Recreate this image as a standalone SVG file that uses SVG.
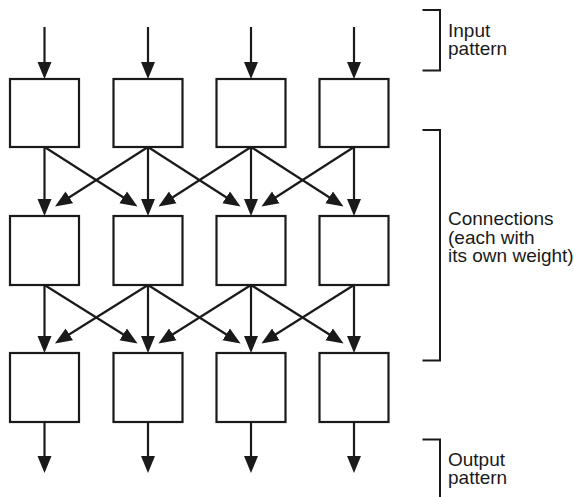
<svg xmlns="http://www.w3.org/2000/svg" width="574" height="497" viewBox="0 0 574 497">
<style>
.box{fill:#fff;stroke:#1a1a1a;stroke-width:2.2}
.ln{stroke:#1a1a1a;stroke-width:2.2;fill:none;marker-end:url(#ah)}
.br{stroke:#1a1a1a;stroke-width:2;fill:none}
.lbl{font-family:"Liberation Sans",Arial,Helvetica,sans-serif;font-size:19px;fill:#1a1a1a}
</style>
<defs>
<marker id="ah" markerUnits="userSpaceOnUse" markerWidth="18" markerHeight="16" viewBox="0 -8 18 16" refX="5" refY="0" orient="auto">
<path d="M0,-7 L17,0 L0,7 Z" fill="#1a1a1a"/>
</marker>
</defs>
<rect width="574" height="497" fill="#fff"/>
<g id="connectors">
<line class="ln" x1="44.5" y1="27" x2="44.5" y2="67"/>
<line class="ln" x1="148" y1="27" x2="148" y2="67"/>
<line class="ln" x1="251" y1="27" x2="251" y2="67"/>
<line class="ln" x1="354" y1="27" x2="354" y2="67"/>
<line class="ln" x1="44.5" y1="147" x2="44.5" y2="204"/>
<line class="ln" x1="148" y1="147" x2="148" y2="204"/>
<line class="ln" x1="251" y1="147" x2="251" y2="204"/>
<line class="ln" x1="354" y1="147" x2="354" y2="204"/>
<line class="ln" x1="44.5" y1="147" x2="127.4" y2="200"/>
<line class="ln" x1="148" y1="147" x2="230.4" y2="200"/>
<line class="ln" x1="251" y1="147" x2="333.4" y2="200"/>
<line class="ln" x1="148" y1="147" x2="65.1" y2="200"/>
<line class="ln" x1="251" y1="147" x2="168.6" y2="200"/>
<line class="ln" x1="354" y1="147" x2="271.6" y2="200"/>
<line class="ln" x1="44.5" y1="285" x2="44.5" y2="341"/>
<line class="ln" x1="148" y1="285" x2="148" y2="341"/>
<line class="ln" x1="251" y1="285" x2="251" y2="341"/>
<line class="ln" x1="354" y1="285" x2="354" y2="341"/>
<line class="ln" x1="44.5" y1="285" x2="127.4" y2="337"/>
<line class="ln" x1="148" y1="285" x2="230.4" y2="337"/>
<line class="ln" x1="251" y1="285" x2="333.4" y2="337"/>
<line class="ln" x1="148" y1="285" x2="65.1" y2="337"/>
<line class="ln" x1="251" y1="285" x2="168.6" y2="337"/>
<line class="ln" x1="354" y1="285" x2="271.6" y2="337"/>
<line class="ln" x1="44.5" y1="422" x2="44.5" y2="461"/>
<line class="ln" x1="148" y1="422" x2="148" y2="461"/>
<line class="ln" x1="251" y1="422" x2="251" y2="461"/>
<line class="ln" x1="354" y1="422" x2="354" y2="461"/>
</g>
<g id="r1c1"><rect class="box" x="10" y="79" width="69" height="68"/></g>
<g id="r1c2"><rect class="box" x="113.5" y="79" width="69" height="68"/></g>
<g id="r1c3"><rect class="box" x="216.5" y="79" width="69" height="68"/></g>
<g id="r1c4"><rect class="box" x="319.5" y="79" width="69" height="68"/></g>
<g id="r2c1"><rect class="box" x="10" y="216" width="69" height="69"/></g>
<g id="r2c2"><rect class="box" x="113.5" y="216" width="69" height="69"/></g>
<g id="r2c3"><rect class="box" x="216.5" y="216" width="69" height="69"/></g>
<g id="r2c4"><rect class="box" x="319.5" y="216" width="69" height="69"/></g>
<g id="r3c1"><rect class="box" x="10" y="353" width="69" height="69"/></g>
<g id="r3c2"><rect class="box" x="113.5" y="353" width="69" height="69"/></g>
<g id="r3c3"><rect class="box" x="216.5" y="353" width="69" height="69"/></g>
<g id="r3c4"><rect class="box" x="319.5" y="353" width="69" height="69"/></g>
<g id="input-label">
<path class="br" d="M422.5,10 H440 V70.5 H422.5"/>
<text class="lbl" x="448" y="36.5">Input</text>
<text class="lbl" x="448" y="55">pattern</text>
</g>
<g id="connections-label">
<path class="br" d="M422.5,130 H440 V360.5 H422.5"/>
<text class="lbl" x="448" y="225">Connections</text>
<text class="lbl" x="448" y="243.5">(each with</text>
<text class="lbl" x="448" y="262">its own weight)</text>
</g>
<g id="output-label">
<path class="br" d="M422.5,439.5 H440 V497"/>
<text class="lbl" x="448" y="465.5">Output</text>
<text class="lbl" x="448" y="484">pattern</text>
</g>
</svg>
